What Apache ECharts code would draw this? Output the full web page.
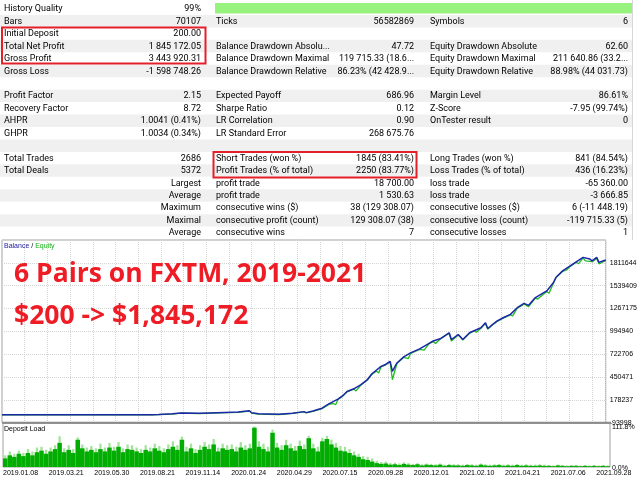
<!DOCTYPE html>
<html><head><meta charset="utf-8">
<script src="https://cdn.jsdelivr.net/npm/echarts@6/dist/echarts.min.js"></script>
<style>html,body{margin:0;padding:0;background:#fff}#c{width:640px;height:480px}</style>
</head><body><div id="c"></div>
<script>
// ---------- report table ----------
const col1Labels = ['History Quality','Bars','Initial Deposit','Total Net Profit','Gross Profit','Gross Loss','','Profit Factor','Recovery Factor','AHPR','GHPR','','Total Trades','Total Deals','','','','',''];
const col1Values = ['99%','70107','200.00','1 845 172.05','3 443 920.31','-1 598 748.26','','2.15','8.72','1.0041 (0.41%)','1.0034 (0.34%)','','2686','5372','Largest','Average','Maximum','Maximal','Average'];
const col2Labels = ['','Ticks','','Balance Drawdown Absolu...','Balance Drawdown Maximal','Balance Drawdown Relative','','Expected Payoff','Sharpe Ratio','LR Correlation','LR Standard Error','','Short Trades (won %)','Profit Trades (% of total)','profit trade','profit trade','consecutive wins ($)','consecutive profit (count)','consecutive wins'];
const col2Values = ['','56582869','','47.72','119 715.33 (18.6...','86.23% (42 428.9...','','686.96','0.12','0.90','268 675.76','','1845 (83.41%)','2250 (83.77%)','18 700.00','1 530.63','38 (129 308.07)','129 308.07 (38)','7'];
const col3Labels = ['','Symbols','','Equity Drawdown Absolute','Equity Drawdown Maximal','Equity Drawdown Relative','','Margin Level','Z-Score','OnTester result','','','Long Trades (won %)','Loss Trades (% of total)','loss trade','loss trade','consecutive losses ($)','consecutive loss (count)','consecutive losses'];
const col3Values = ['','6','','62.60','211 640.86 (33.2...','88.98% (44 031.73)','','86.61%','-7.95 (99.74%)','0','','','841 (84.54%)','436 (16.23%)','-65 360.00','-3 666.85','6 (-11 448.19)','-119 715.33 (5)','1'];

// ---------- chart data ----------
const dateLabels = ['2019.01.08','2019.03.21','2019.05.30','2019.08.21','2019.11.14','2020.01.24','2020.04.29','2020.07.15','2020.09.28','2020.12.01','2021.02.10','2021.04.21','2021.07.06','2021.09.28'];
const balance = [[0,200],[66,200],[69,3000],[75,12000],[79,22000],[87,18000],[95,26000],[104,33000],[109,48000],[110,25000],[113,12000],[117,10000],[122,7000],[128,20000],[133,38000],[134,26000],[137,45000],[141,78600],[144,130000],[148,186500],[150,225000],[152,277600],[155,310000],[158,357900],[161,420000],[163,489800],[167,577300],[169,600000],[171,637200],[172,517300],[174,618000],[177,690000],[180,737900],[184,785900],[188,849400],[190,880000],[193,905700],[197,977600],[198,897300],[201,957300],[203,897300],[206,977600],[211,1037600],[213,1097500],[214,1029200],[218,1116700],[221,1160000],[224,1197000],[227,1277300],[230,1328900],[232,1304900],[235,1397200],[240,1476300],[243,1577000],[244,1636900],[247,1716000],[250,1768800],[253,1823900],[256,1876700],[259,1856300],[260,1835900],[262,1876700],[263,1816700],[265,1835900],[266,1845372]];
const equity = [[0,200],[66,200],[69,2000],[75,9000],[79,19000],[87,14000],[95,22000],[104,30000],[109,44000],[110,20000],[113,8000],[117,6000],[122,4000],[128,16000],[133,34000],[134,22000],[137,41000],[141,74000],[144,124000],[146,135000],[147,120000],[148,182000],[150,220000],[152,272000],[155,305000],[156,285000],[158,352000],[161,415000],[163,484000],[165,520000],[166,500000],[167,572000],[169,595000],[171,632000],[172,417800],[174,612000],[177,685000],[179,670000],[180,732000],[184,780000],[186,770000],[188,844000],[190,875000],[191,850000],[193,900000],[197,972000],[198,880000],[201,950000],[202,930000],[203,890000],[206,972000],[208,1000000],[209,985000],[211,1032000],[213,1092000],[214,1020000],[216,1070000],[218,1110000],[221,1155000],[224,1192000],[225,1180000],[227,1272000],[229,1300000],[230,1323000],[232,1290000],[235,1392000],[236,1380000],[240,1470000],[241,1450000],[243,1572000],[244,1632000],[247,1711000],[249,1730000],[250,1764000],[253,1818000],[254,1800000],[256,1870000],[257,1835000],[259,1830000],[260,1825000],[262,1865000],[263,1800000],[265,1825000],[266,1840000]];
const loadDark = [22,30,26,34,28,36,30,38,42,34, 40,46,62,38,44,36,70,48,40,44, 38,46,40,50,42,52,38,46,44,40, 36,44,40,48,42,38,46,52,44,70, 40,48,36,44,52,46,58,40,48,44, 46,40,50,44,48,101,52,46,40,88, 50,44,56,48,42,54,46,74,48,40, 66,72,58,50,42,40,36,30,26,20, 18,14,10,8,9,6,7,5,8,6, 5,7,4,6,5,4,6,3,5,4, 4,3,5,4,3,6,4,3,4,5, 3,4,3,5,3,4,3,3,4,3, 3,2,4,3,2,3,3,2,3,2, 3,2,3,2];
const loadLight = [30,40,34,42,36,46,40,50,52,44, 50,56,79,48,56,46,76,58,50,54, 48,60,50,62,52,64,48,58,56,50, 46,56,50,60,54,48,58,66,56,78, 52,60,46,56,64,58,72,50,60,56, 58,52,64,56,60,104,66,60,52,96, 62,56,70,60,54,68,58,80,60,52, 75,80,70,62,54,52,46,40,34,28, 26,22,16,13,14,10,11,9,12,10, 8,10,7,9,8,7,9,6,8,7, 7,6,8,7,6,9,7,6,7,8, 6,7,6,8,6,7,6,6,7,6, 5,4,6,5,4,5,5,4,5,4, 5,4,5,4];

// ---------- layout / style ----------
const ROW0 = 2.5, RH = 12.45;
const TFONT = '9px Roboto, "Liberation Sans", sans-serif';
const g = [];
for (let r = 0; r < col1Labels.length; r++) {
  if (r % 2 === 1) g.push({type:'rect', shape:{x:0,y:ROW0+RH*r,width:632,height:RH}, style:{fill:'#f0f0f0'}, silent:true});
}
g.push({type:'rect', shape:{x:215,y:3,width:417,height:10.5}, style:{fill:'#98f27e'}});
g.push({type:'line', shape:{x1:632.5,y1:0,x2:632.5,y2:240}, style:{stroke:'#d6d6d6',lineWidth:1}});
function txt(s, x, r, align) {
  if (!s) return;
  g.push({type:'text', style:{text:s, x:x, y:ROW0+RH*r+RH/2+0.3, font:TFONT, fill:'#000', textAlign:align, textVerticalAlign:'middle'}});
}
for (let r = 0; r < col1Labels.length; r++) {
  txt(col1Labels[r], 4, r, 'left');
  txt(col1Values[r], 201, r, 'right');
  txt(col2Labels[r], 216, r, 'left');
  txt(col2Values[r], 414, r, 'right');
  txt(col3Labels[r], 430, r, 'left');
  txt(col3Values[r], 628, r, 'right');
}
g.push({type:'rect', shape:{x:2,y:27.5,width:203.5,height:36}, style:{fill:null,stroke:'#e3202a',lineWidth:2}});
g.push({type:'rect', shape:{x:213.5,y:152,width:203,height:25.5}, style:{fill:null,stroke:'#e3202a',lineWidth:2}});
// chart captions
const SF = '7px "Liberation Sans", sans-serif';
g.push({type:'text', z:10, style:{text:'{b|Balance} / {e|Equity}', x:4, y:246.5, textVerticalAlign:'middle', font:SF, fill:'#000', rich:{b:{fill:'#1a1aa0',font:SF}, e:{fill:'#18b018',font:SF}}}});
g.push({type:'text', z:10, style:{text:'Deposit Load', x:4, y:429, textVerticalAlign:'middle', font:SF, fill:'#000'}});
g.push({type:'text', z:10, style:{text:'6 Pairs on FXTM, 2019-2021', x:14, y:274.5, textVerticalAlign:'middle', font:'bold 26.5px "Open Sans", sans-serif', fill:'#ee1c25'}});
g.push({type:'text', z:10, style:{text:'$200 -> $1,845,172', x:14, y:316, textVerticalAlign:'middle', font:'bold 26.5px "Open Sans", sans-serif', fill:'#ee1c25'}});
g.push({type:'line', z:10, shape:{x1:2,y1:422.8,x2:611,y2:422.8}, style:{stroke:'#8c8c8c',lineWidth:2}});

const axFont = {fontSize:7, fontFamily:'"Liberation Sans", sans-serif', color:'#000'};
const chart = echarts.init(document.getElementById('c'));
chart.setOption({
  animation:false,
  graphic:g,
  grid:[
    {left:2, top:240, width:608, height:182.7, show:true, borderColor:'#a0a0a0', borderWidth:1, backgroundColor:'#fff'},
    {left:2, top:423.5, width:608, height:43.5, show:true, borderColor:'#a0a0a0', borderWidth:1, backgroundColor:'#fff'}
  ],
  xAxis:[
    {gridIndex:0, type:'value', min:0, max:266, interval:10, axisLabel:{show:false}, axisLine:{show:false}, axisTick:{show:false}, splitLine:{show:true, lineStyle:{color:'#d4d4d4', type:'dotted'}}},
    {gridIndex:1, type:'value', min:0, max:266, interval:10, axisLine:{show:false}, axisTick:{show:false}, splitLine:{show:false},
      axisLabel:Object.assign({margin:3, align:'left', formatter:v => (v % 20 === 0 && dateLabels[v/20]) ? dateLabels[v/20] : ''}, axFont)},
    {gridIndex:1, type:'category', data:loadDark.map((v,i)=>i), show:false, boundaryGap:true},
    {gridIndex:1, type:'category', data:loadLight.map((v,i)=>i), show:false, boundaryGap:true}
  ],
  yAxis:[
    {gridIndex:0, type:'value', position:'right', min:-93998, max:2083878, interval:272234.5, axisLine:{show:false}, axisTick:{show:false},
      splitLine:{show:true, lineStyle:{color:'#d4d4d4', type:'dotted'}},
      axisLabel:Object.assign({margin:4, showMaxLabel:false, formatter:v => String(Math.round(v))}, axFont)},
    {gridIndex:1, type:'value', position:'right', min:0, max:111.8, interval:111.8, axisLine:{show:false}, axisTick:{show:false}, splitLine:{show:false},
      axisLabel:Object.assign({margin:2, formatter:v => v > 0 ? '{t|' + v.toFixed(1) + '%}' : '{b|' + v.toFixed(1) + '%}',
        rich:{t:{fontSize:7, fontFamily:'"Liberation Sans", sans-serif', color:'#000', padding:[8,0,0,0]}, b:{fontSize:7, fontFamily:'"Liberation Sans", sans-serif', color:'#000', padding:[2,0,0,0]}}}, axFont)}
  ],
  series:[
    {type:'line', name:'Equity', xAxisIndex:0, yAxisIndex:0, data:equity, symbol:'none', lineStyle:{color:'#22bb22', width:1.3}, z:2},
    {type:'line', name:'Balance', xAxisIndex:0, yAxisIndex:0, data:balance, symbol:'none', lineStyle:{color:'#1c28a8', width:1.5}, z:3},
    {type:'bar', name:'LoadPeak', xAxisIndex:3, yAxisIndex:1, data:loadLight, barWidth:'50%', itemStyle:{color:'#a2e29a'}, z:2},
    {type:'bar', name:'Load', xAxisIndex:2, yAxisIndex:1, data:loadDark, barCategoryGap:'0%', itemStyle:{color:'#00ad00'}, z:3}
  ]
});
</script></body></html>
